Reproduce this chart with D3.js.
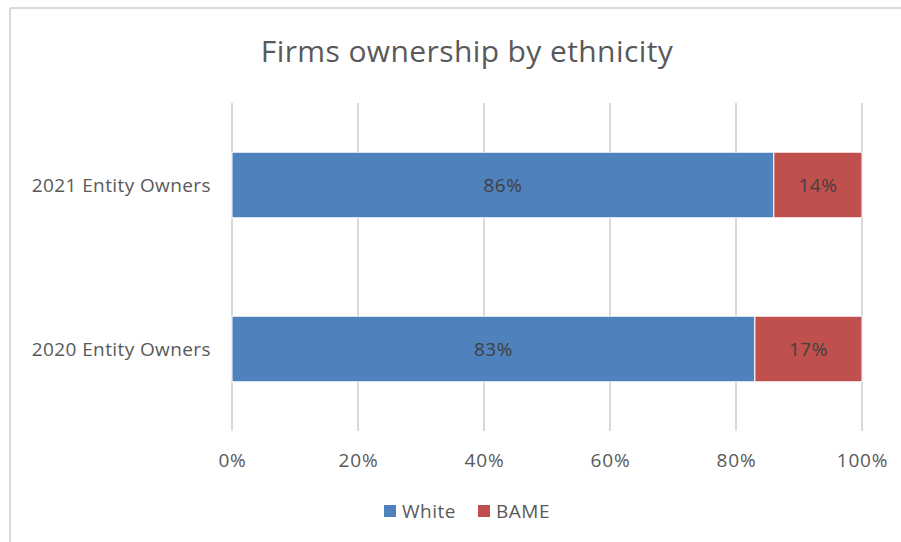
<!DOCTYPE html>
<html>
<head>
<meta charset="utf-8">
<script src="https://cdn.jsdelivr.net/npm/d3@7"></script>
<style>
  body { margin: 0; background: #fff; }
  svg { display: block; font-family: "Open Sans", "Noto Sans", sans-serif; }
</style>
</head>
<body>
<svg width="901" height="542"></svg>
<script>
var categories = ["2021 Entity Owners", "2020 Entity Owners"];
var seriesNames = ["White", "BAME"];
var white = [86, 83];
var bame = [14, 17];
var ticks = [0, 20, 40, 60, 80, 100];
var colors = ["#4F81BD", "#C0504D"];

var svg = d3.select("svg"),
    width = +svg.attr("width"),
    height = +svg.attr("height");

// frame
svg.append("line").attr("x1", 10).attr("y1", 8).attr("x2", 10).attr("y2", height)
  .attr("stroke", "#d9d9d9").attr("stroke-width", 2);
svg.append("line").attr("x1", 10).attr("y1", 8).attr("x2", width).attr("y2", 8)
  .attr("stroke", "#d9d9d9").attr("stroke-width", 2);

svg.append("text")
  .attr("x", 467).attr("y", 62)
  .attr("text-anchor", "middle")
  .attr("font-size", 30)
  .attr("letter-spacing", 0.4)
  .attr("fill", "#595959")
  .text("Firms ownership by ethnicity");

var x = d3.scaleLinear().domain([0, 100]).range([232, 862]);
var y = d3.scaleBand().domain(categories).range([103, 431]).paddingInner(0.6).paddingOuter(0.3);

// gridlines
svg.append("g").selectAll("line")
  .data(ticks).enter().append("line")
  .attr("x1", function(d) { return x(d); })
  .attr("x2", function(d) { return x(d); })
  .attr("y1", 103).attr("y2", 431)
  .attr("stroke", "#d9d9d9").attr("stroke-width", 2);

var rows = categories.map(function(c, i) { return {cat: c, vals: [white[i], bame[i]]}; });

rows.forEach(function(r) {
  var start = 0;
  r.vals.forEach(function(v, j) {
    svg.append("rect")
      .attr("x", x(start))
      .attr("y", y(r.cat))
      .attr("width", x(start + v) - x(start))
      .attr("height", y.bandwidth())
      .attr("fill", colors[j])
      .attr("stroke", "#fff").attr("stroke-width", 1);
    svg.append("text")
      .attr("x", (x(start) + x(start + v)) / 2)
      .attr("y", y(r.cat) + y.bandwidth() / 2 + 7)
      .attr("text-anchor", "middle")
      .attr("font-size", 19)
      .attr("letter-spacing", 0.5)
      .attr("fill", "#404040")
      .text(v + "%");
    start += v;
  });
  svg.append("text")
    .attr("x", 211)
    .attr("y", y(r.cat) + y.bandwidth() / 2 + 7)
    .attr("text-anchor", "end")
    .attr("font-size", 19)
    .attr("letter-spacing", 0.4)
    .attr("fill", "#595959")
    .text(r.cat);
});

// x axis labels
svg.append("g")
  .attr("transform", "translate(0,431)")
  .call(d3.axisBottom(x).tickValues(ticks).tickSize(0).tickPadding(23).tickFormat(function(d) { return d + "%"; }))
  .call(function(g) { g.select(".domain").remove(); })
  .selectAll("text")
  .attr("font-family", "Open Sans, Noto Sans, sans-serif")
  .attr("font-size", 19)
  .attr("letter-spacing", 0.8)
  .attr("fill", "#595959");

// legend
var legendX = [384, 478];
seriesNames.forEach(function(s, i) {
  svg.append("rect").attr("x", legendX[i]).attr("y", 505).attr("width", 12).attr("height", 12).attr("fill", colors[i]);
  svg.append("text").attr("x", legendX[i] + 18).attr("y", 518)
    .attr("font-size", 19).attr("letter-spacing", 0.5).attr("fill", "#595959").text(s);
});
</script>
</body>
</html>
